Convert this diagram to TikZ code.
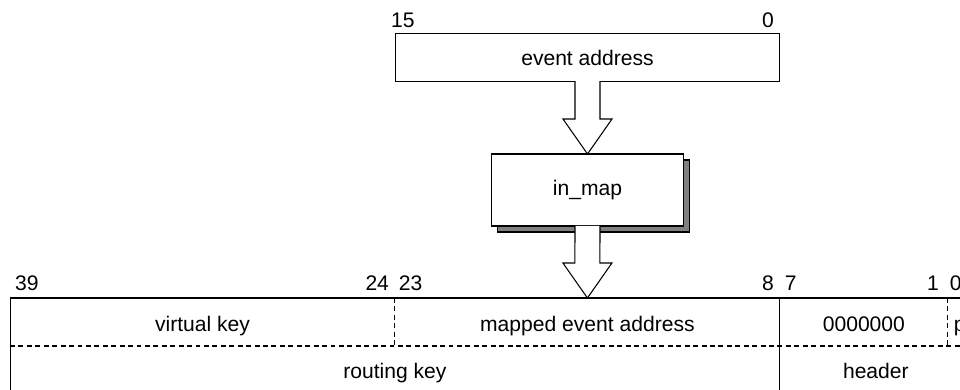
\documentclass[tikz,border=0pt]{standalone}
\usepackage{fontspec}
\setmainfont{Liberation Sans}
\usepackage{tikz}
\usetikzlibrary{positioning, calc, shadows}

% hollow block arrow running down from #1 to the tip at #2
\newcommand{\blockarrow}[2]{%
    \draw[block_arrow] ($(#1)+(-12.5,0)$) -- ($(#2)+(-12.5,-35)$)
        -- ($(#2)+(-24.5,-35)$) -- (#2) -- ($(#2)+(24.5,-35)$)
        -- ($(#2)+(12.5,-35)$) -- ($(#1)+(12.5,0)$);
}

\begin{document}
\begin{tikzpicture}[
        x=0.02cm, y=-0.02cm,
        font=\fontsize{12}{14}\selectfont,
        line_style/.style={line width=0.6pt, draw=black},
        dash_style/.style={line width=0.6pt, draw=black, dash pattern=on 2.8pt off 2pt},
        field/.style={minimum height=0.96cm, inner sep=0pt, outer sep=0pt},
        top_field/.style={field, text height=0.39cm, text depth=0pt},
        low_field/.style={field, text height=0.33cm, text depth=0pt},
        box_style/.style={field, line_style, fill=white},
        bit_label/.style={inner sep=0pt, outer sep=0pt},
        block_arrow/.style={line width=0.6pt, draw=black, fill=white, line join=miter},
        shadow_box/.style={drop shadow={shadow xshift=0.12cm, shadow yshift=-0.12cm,
            fill=black!50, draw=black, line width=0.6pt, opacity=1}}
    ]
    \useasboundingbox (0,0) rectangle (960,389);
    \clip (0,0) rectangle (960,389);

    % =========================================================================
    % 1. EVENT ADDRESS AND IN_MAP
    % =========================================================================
    \node[box_style, minimum width=7.7cm, minimum height=0.95cm] (EventAddr) at (587.5,57.5) {event address};
    \node[bit_label, anchor=base west] (ev15) at ($(EventAddr.north west)+(-4,-6)$) {15};
    \node[bit_label, anchor=base east] (ev0) at ($(EventAddr.north east)+(-6,-6)$) {0};

    \node[box_style, shadow_box, minimum width=3.84cm, minimum height=1.44cm] (InMap) at (587.5,190) {in\_map};

    % =========================================================================
    % 2. OUTPUT KEY FIELDS
    % =========================================================================

    % Top row
    \node[top_field, minimum width=7.7cm] (VirtKey) at (202.5,322) {virtual key};
    \node[top_field, minimum width=7.7cm, right=0pt of VirtKey] (MappedAddr) {mapped event address};
    \node[top_field, minimum width=3.36cm, right=0pt of MappedAddr] (Zeros) {0000000};
    \node[top_field, minimum width=0.48cm, right=0pt of Zeros] (Parity) {p};

    % Bottom row
    \node[low_field, minimum width=15.4cm, below right=0pt and 0pt of VirtKey.south west] (RoutingKey) {routing key};
    \node[low_field, minimum width=3.84cm, right=0pt of RoutingKey] (Header) {header};

    % Field borders
    \draw[line_style] (RoutingKey.south west) -- (VirtKey.north west) -- (Parity.north east);
    \draw[line_style] (RoutingKey.south west) -- (Header.south east);
    \draw[line_style] (MappedAddr.north east) -- (Header.south west);
    \draw[dash_style] (VirtKey.south west) -- (Parity.south east);
    \draw[dash_style] (VirtKey.north east) -- (VirtKey.south east);
    \draw[dash_style] (Zeros.north east) -- (Zeros.south east);

    % Bit numbers
    \node[bit_label, anchor=base west] (b39) at ($(VirtKey.north west)+(5,-8)$) {39};
    \node[bit_label, anchor=base east] (b24) at ($(VirtKey.north east)+(-6,-8)$) {24};
    \node[bit_label, anchor=base west] (b23) at ($(MappedAddr.north west)+(4,-8)$) {23};
    \node[bit_label, anchor=base east] (b8) at ($(MappedAddr.north east)+(-6,-8)$) {8};
    \node[bit_label, anchor=base west] (b7) at ($(Zeros.north west)+(5,-8)$) {7};
    \node[bit_label, anchor=base east] (b1) at ($(Zeros.north east)+(-9,-8)$) {1};
    \node[bit_label, anchor=base west] (b0) at ($(Parity.north west)+(2,-8)$) {0};

    % =========================================================================
    % 3. BLOCK ARROWS
    % =========================================================================
    \blockarrow{EventAddr.south}{InMap.north}
    \blockarrow{InMap.south}{MappedAddr.north}

\end{tikzpicture}
\end{document}
